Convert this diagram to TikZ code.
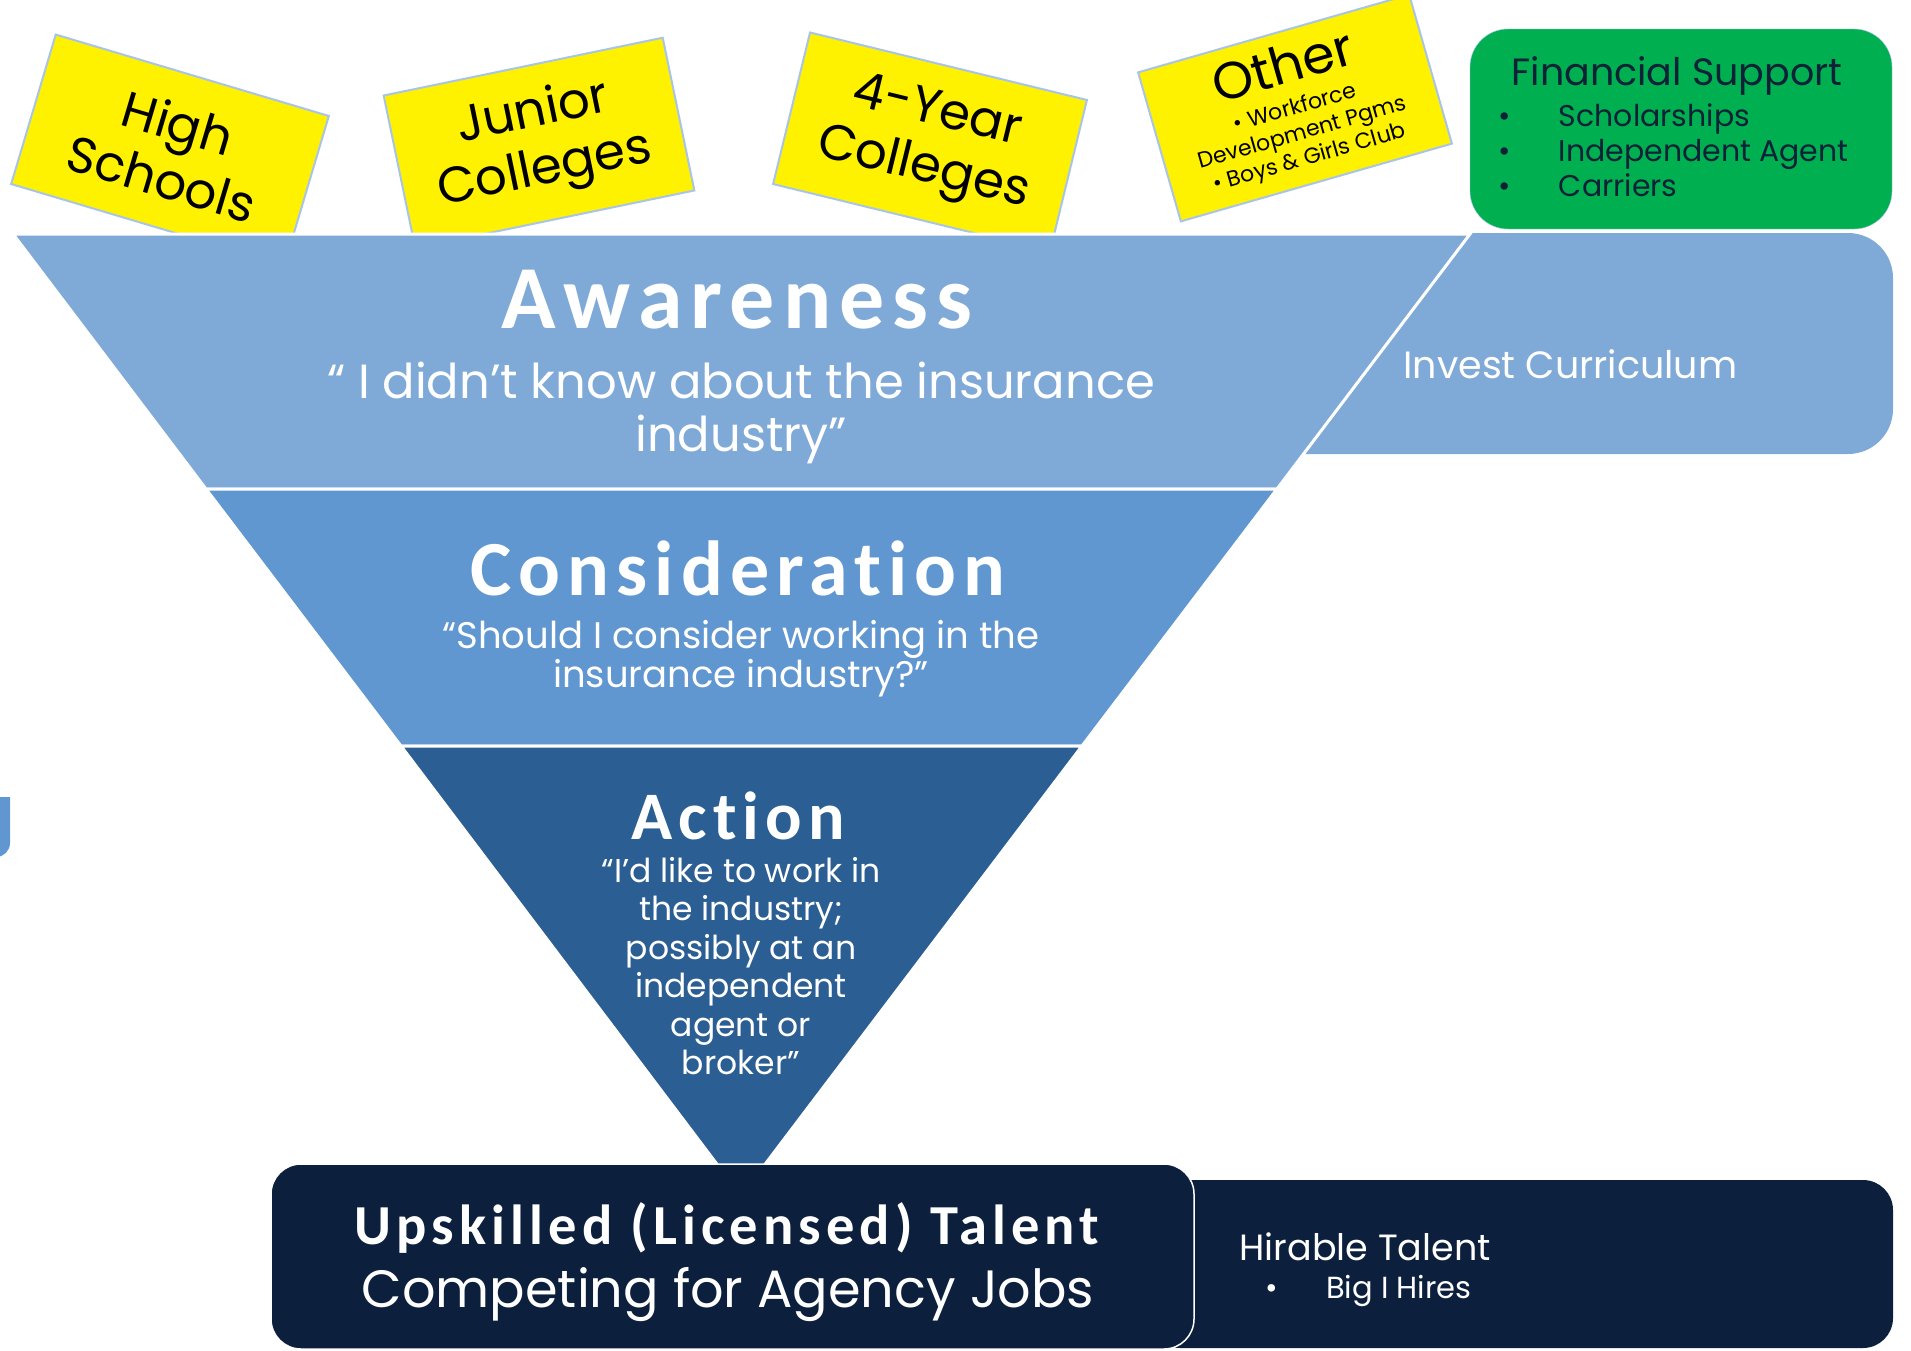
\documentclass[tikz,border=0pt]{standalone}
\usepackage{fontspec}
\setmainfont{Poppins}
\newfontfamily\headfont{Carlito}[LetterSpace=9, Ligatures={NoCommon,NoContextual}]
\usetikzlibrary{positioning}

\definecolor{awareblue}{HTML}{7FAAD8}
\definecolor{considblue}{HTML}{6197D0}
\definecolor{actionblue}{HTML}{2B5E92}
\definecolor{navybox}{HTML}{0C1F3D}
\definecolor{noteline}{HTML}{A8C4E8}
\definecolor{supportgreen}{HTML}{00B050}
\definecolor{darktext}{HTML}{0E2237}

\tikzset{
  note/.style={draw=noteline, line width=2pt, fill=yellow, minimum width=285pt,
    minimum height=156pt, align=center, font=\fontsize{50}{58}\selectfont},
  band/.style={draw=white, line width=3pt},
  headtext/.style={text=white, font=\headfont\bfseries\fontsize{#1}{#1}\selectfont},
  quotetext/.style={text=white, align=center},
}

\begin{document}
\begin{tikzpicture}[x=1pt,y=-1pt]
  \clip (0,0) rectangle (1911,1350);

  % sticky notes
  \begin{scope}
    \node[note, rotate=-16.6] (high) at (170,150) {High\\Schools};
    \node[note, rotate=11.7] (junior) at (539,143) {Junior\\Colleges};
    \node[note, rotate=-13.7] (four) at (930,142) {4-Year\\Colleges};
    \node[note, rotate=16, minimum width=282pt, minimum height=155pt,
      font=\fontsize{22}{26}\selectfont] (other) at (1295,108)
      {{\fontsize{52}{56}\selectfont Other}\\[6pt]\textbullet\ Workforce\\Development Pgms\\\textbullet\ Boys \& Girls Club};
  \end{scope}

  % side boxes
  \draw[noteline, fill=supportgreen, rounded corners=38pt] (1470,29) rectangle (1892,229);
  \fill[awareblue, rounded corners=45pt] (1290,233) -- (1893,233) -- (1893,454) -- (1290,454);

  % funnel
  \draw[band, fill=awareblue] (13,234) -- (1470,234) -- (1277,489) -- (206,489) -- cycle;
  \draw[band, fill=considblue] (206,489) -- (1277,489) -- (1082,746) -- (401,746) -- cycle;
  \draw[band, fill=actionblue] (401,746) -- (1082,746) -- (741,1196) -- cycle;

  % bottom boxes
  \fill[navybox, rounded corners=30pt] (1150,1180) rectangle (1893,1348);
  \draw[white, line width=1.5pt, fill=navybox, rounded corners=30pt] (271,1164) rectangle (1194,1349);

  % cut off shape on the left
  \fill[considblue] (-30,797) -- (10,797) [rounded corners=14pt] -- (10,857) -- (-30,857) -- cycle;

  % funnel texts
  \node[headtext=90] (aware) at (737,300) {Awareness};
  \node[quotetext, font=\fontsize{48}{53}\selectfont] (awareq) at (741,413)
    {“ I didn’t know about the insurance\\industry”};
  \node[headtext=78] (consid) at (738,568) {Consideration};
  \node[quotetext, font=\fontsize{37}{39}\selectfont] (considq) at (741,659)
    {“Should I consider working in the\\insurance\ industry?”};
  \node[headtext=68] (action) at (738,816) {Action};
  \node[quotetext, font=\fontsize{33}{38.5}\selectfont] (actionq) at (741,966)
    {“I’d like to work in\\the industry;\\possibly at an\\independent\\agent or\\broker”};

  % side texts
  \node[text=white, anchor=west, font=\fontsize{38}{44}\selectfont] (invest) at (1400,364) {Invest Curriculum};
  \node[text=darktext, font=\fontsize{38}{44}\selectfont] (support) at (1677,76) {Financial Support};
  \node[text=darktext, anchor=north west, align=left, font=\fontsize{30}{35}\selectfont] (supportlist) at (1495,100)
    {\textbullet\hspace{48pt}Scholarships\\\textbullet\hspace{48pt}Independent Agent\\\textbullet\hspace{48pt}Carriers};

  % bottom texts
  \node[headtext=56.5] (upskill) at (727,1228) {Upskilled (Licensed) Talent};
  \node[text=white, font=\fontsize{52.5}{60}\selectfont] (compete) at (728,1295) {Competing for Agency Jobs};
  \node[text=white, anchor=west, font=\fontsize{36.5}{42}\selectfont] (hirable) at (1236,1247) {Hirable Talent};
  \node[text=white, anchor=west, font=\fontsize{30.5}{34}\selectfont] (bigi) at (1262,1291) {\textbullet\hspace{48pt}Big I Hires};
\end{tikzpicture}
\end{document}
